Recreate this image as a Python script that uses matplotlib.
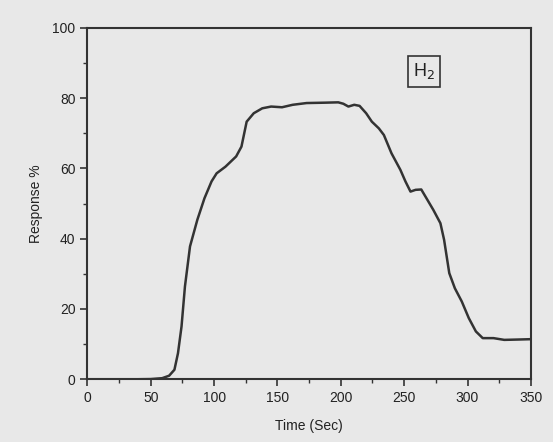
import matplotlib
matplotlib.use('Agg')
import matplotlib.pyplot as plt
from matplotlib.ticker import MultipleLocator

# 時間 (秒)
time_sec = [0, 20, 40, 50, 59, 64.5, 68.7, 71.5, 74.3, 77, 81, 86.8, 92.4, 98, 102,
            109, 117.4, 121.6, 125.7, 131.3, 138, 145, 153.6, 162, 173, 187, 198,
            202, 206, 210.6, 214.8, 220, 224.5, 230, 234, 240, 247, 251, 255, 259,
            263.5, 267.6, 273, 278.6, 281.5, 285.6, 290, 295.5, 301, 306.6, 312,
            320.5, 329, 340, 350]
# 応答 (%)
response = [0, 0, 0, 0.05, 0.3, 1.0, 2.7, 7.4, 15, 26.4, 37.8, 45.4, 51.5, 56.3, 58.6,
            60.5, 63.4, 66.2, 73.3, 75.7, 77.1, 77.6, 77.4, 78.1, 78.6, 78.7, 78.8,
            78.4, 77.6, 78.1, 77.8, 75.7, 73.3, 71.4, 69.5, 64.3, 59.6, 56.3, 53.4, 53.9,
            54.0, 51.5, 48.2, 44.4, 39.7, 30.2, 25.9, 22.1, 17.4, 13.6, 11.7,
            11.7, 11.2, 11.3, 11.4]

BG = '#e8e8e8'
DARK = '#333333'

plt.rcParams['font.family'] = ['Liberation Sans', 'DejaVu Sans']
plt.rcParams['font.size'] = 10

fig = plt.figure(figsize=(5.53, 4.42), dpi=100, facecolor=BG)
ax = fig.add_axes([0.158, 0.142, 0.802, 0.795], facecolor=BG)

#応答曲線
ax.plot(time_sec, response, color=DARK, linewidth=1.8)

#軸範囲
ax.set_xlim(0, 350)
ax.set_ylim(0, 100)
ax.xaxis.set_major_locator(MultipleLocator(50))
ax.xaxis.set_minor_locator(MultipleLocator(25))
ax.yaxis.set_major_locator(MultipleLocator(20))
ax.yaxis.set_minor_locator(MultipleLocator(10))
ax.tick_params(which='major', direction='out', length=5, width=1.2, color=DARK, labelcolor='#222222')
ax.tick_params(which='minor', direction='out', length=3, width=1.0, color=DARK)

for sp in ax.spines.values():
    sp.set_color(DARK)
    sp.set_linewidth(1.5)

ax.set_xlabel('Time (Sec)', color='#222222', labelpad=10)
ax.set_ylabel('Response %', color='#222222', labelpad=7)

#ガス名ラベル
ax.text(0.759, 0.876, r'H$_2$', transform=ax.transAxes, ha='center', va='center',
        fontsize=13, color='#222222',
        bbox=dict(boxstyle='square,pad=0.3', facecolor=BG, edgecolor=DARK, linewidth=1.2))

fig.savefig('out.png', dpi=100, facecolor=BG)
